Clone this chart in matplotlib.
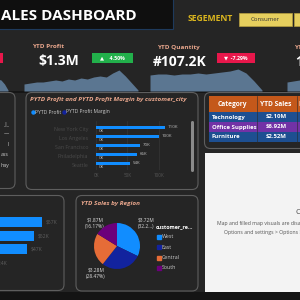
import matplotlib
matplotlib.use('Agg')
import matplotlib.pyplot as plt
from matplotlib.patches import FancyBboxPatch, Rectangle

plt.rcParams['font.family'] = ['Open Sans', 'DejaVu Sans']

# ---------------- data ----------------
profit_trend = [7, 8, 9, 9, 10, 11, 10, 12, 11, 13, 12, 14, 15, 14, 18, 21, 15, 8, 1]
quantity_trend = [16, 17, 17, 16, 17, 17, 18, 17, 18, 19, 20, 22, 18, 10, 1]
card1_trend = [13, 12, 11, 7, 1]
card4_trend = [9, 10, 11, 11, 12]

cities = ['New York City', 'Los Angeles', 'San Francisco', 'Philadelphia', 'Seattle']
pytd_profit = [110, 100, 70, 66, 54]
pytd_margin = [0, 0, 0, 0, 0]
xticks_k = [0, 50, 100]

seg_vals = [57, 52, 47, 24]

categories = ['Technology', 'Office Supplies', 'Furniture']
cat_sales = ['$2.10M', '$6.92M', '$2.52M']

regions = ['West', 'East', 'Central', 'South']
region_sales = [3.72, 3.28, 2.68, 1.87]
region_pct = ['(32.2...)', '(28.47%)', '', '(16.17%)']
region_colors = ['#118dff', '#12239e', '#e66c37', '#6b007b']

W = H = 300
fig = plt.figure(figsize=(3, 3), dpi=100)
fig.patch.set_facecolor('#252525')


def rect(x0, y0, x1, y1):
    return [x0 / W, 1 - y1 / H, (x1 - x0) / W, (y1 - y0) / H]


bg = fig.add_axes([0, 0, 1, 1])
bg.set_xlim(0, 300)
bg.set_ylim(300, 0)
bg.axis('off')

SALMON = '#e8a68c'

# title bar
bg.add_patch(Rectangle((-2, -2), 175, 31, fc='#0f0f0f', ec='#1e3a5c', lw=0.8))
bg.text(1, 16, 'ALES DASHBOARD', color='white', fontsize=11, fontweight='bold',
        ha='left', va='center')
bg.text(188, 18.5, 'SEGEMENT', color='#dbb61e', fontsize=6.2, fontweight='bold',
        ha='left', va='center')
bg.add_patch(Rectangle((239, 12.5), 53, 13.5, fc='#e6cf5e', ec='#b8a040', lw=0.5))
bg.add_patch(Rectangle((293.5, 12.5), 10, 13.5, fc='#e6cf5e', ec='#b8a040', lw=0.5))
bg.text(265.5, 19.5, 'Consumer', color='#333333', fontsize=4.3, ha='center', va='center')

# strips
bg.add_patch(Rectangle((0, 91), 300, 2, fc='#161616', lw=0))
bg.add_patch(Rectangle((0, 292), 300, 10, fc='#141414', lw=0))

# KPI texts
bg.add_patch(Rectangle((-5, 52.5), 8, 10, fc='#e8174b', lw=0))
bg.text(32, 46, 'YTD Profit', color=SALMON, fontsize=4.6, fontweight='bold', ha='left', va='center')
bg.text(38, 61, '$1.3M', color='white', fontsize=10, fontweight='bold', ha='left', va='center')
bg.add_patch(Rectangle((92, 53), 41, 10, fc='#22b04b', lw=0))
bg.text(112.5, 58, '\u25B2    4.50%', color='white', fontsize=3.8, fontweight='bold',
        ha='center', va='center')
bg.text(157, 47.5, 'YTD Quantity', color=SALMON, fontsize=4.6, fontweight='bold', ha='left', va='center')
bg.text(153, 62, '#107.2K', color='white', fontsize=10, fontweight='bold', ha='left', va='center')
bg.add_patch(Rectangle((217, 53), 38, 10, fc='#e8174b', lw=0))
bg.text(236, 58, '\u25BC  -7.29%', color='white', fontsize=3.8, fontweight='bold',
        ha='center', va='center')
bg.text(294, 47.5, 'YTD', color=SALMON, fontsize=4.6, fontweight='bold', ha='left', va='center')
bg.text(295, 62, '1', color='white', fontsize=10, fontweight='bold', ha='left', va='center')

AREA = '#5b7691'
for trend, box in [(card1_trend, (-6, 62, 8, 91)), (profit_trend, (24, 62, 138, 91)),
                   (quantity_trend, (150, 62, 262, 91)), (card4_trend, (287, 62, 312, 91))]:
    a = fig.add_axes(rect(*box))
    a.fill_between(range(len(trend)), trend, color=AREA, lw=0)
    a.set_xlim(0, len(trend) - 1)
    a.set_ylim(0, 29)
    a.axis('off')

# panels
PANEL_EC = '#5e5e5e'


def panel(x0, y0, x1, y1):
    bg.add_patch(FancyBboxPatch((x0, y0), x1 - x0, y1 - y0,
                                boxstyle='round,pad=0,rounding_size=6',
                                fc='none', ec=PANEL_EC, lw=0.8))


panel(-20, 92.5, 15, 188.5)
panel(26, 92.5, 198, 189.5)
panel(204.5, 92.5, 320, 148.5)
panel(-20, 195.5, 64, 290.5)
panel(76, 195.5, 198, 291)

# left partial panel texts
for yy, s in [(124, '_l_'), (134, '\u2014'), (145, 'l'), (155, 'ass'), (166, 'hay')]:
    bg.text(9, yy, s, color='#cccccc', fontsize=3.8, ha='right', va='center')

# mid chart
bg.text(30, 100, 'PYTD Profit and PYTD Profit Margin by customer_city', color=SALMON,
        fontsize=4.6, fontweight='bold', fontstyle='italic', ha='left', va='center')
bg.plot([32.5], [112], 'o', ms=2.2, color='#118dff')
bg.text(35, 112, 'PYTD Profit', color='#cccccc', fontsize=3.6, ha='left', va='center')
bg.plot([64], [112], 'o', ms=2.2, color='#12239e')
bg.text(66.5, 112, 'PYTD Profit Margin', color='#cccccc', fontsize=3.6, ha='left', va='center')

ax = fig.add_axes(rect(96, 121, 185, 170))
ax.set_facecolor('none')
ypos = list(range(len(cities)))
b1 = ax.barh([y - 0.19 for y in ypos], pytd_profit, height=0.36, color='#118dff', zorder=3)
b2 = ax.barh([y + 0.19 for y in ypos], pytd_margin, height=0.36, color='#12239e', zorder=3)
ax.bar_label(b1, labels=[f'{v}K' for v in pytd_profit], padding=2, fontsize=3.2, color='#bbbbbb')
ax.bar_label(b2, labels=[f'{v}K' for v in pytd_margin], padding=2, fontsize=3.2, color='#bbbbbb')
ax.set_xlim(0, 142)
ax.set_ylim(4.56, -0.89)
ax.set_yticks(ypos)
ax.set_yticklabels(cities, fontsize=3.8, color='#4a4a4a')
ax.set_xticks(xticks_k)
ax.set_xticklabels([f'{v}K' for v in xticks_k], fontsize=3.3, color='#555555')
ax.tick_params(axis='y', length=0, pad=5.5)
ax.tick_params(axis='x', length=0, pad=2.5)
ax.grid(axis='x', color='#353535', lw=0.5, zorder=0)
for s in ax.spines.values():
    s.set_visible(False)
bg.add_patch(FancyBboxPatch((191, 121), 3, 51, boxstyle='round,pad=0,rounding_size=1.5',
                            fc='#8a8a8a', lw=0))

# table
bg.add_patch(Rectangle((208.5, 96), 100, 16, fc='#c4581a', lw=0))
row_cols = ['#1d4f91', '#7232a6', '#1d4f91']
for i, (c, v) in enumerate(zip(categories, cat_sales)):
    y0 = 112 + 10 * i
    bg.add_patch(Rectangle((208.5, y0), 100, 10, fc=row_cols[i], lw=0))
    bg.text(212, y0 + 5, c, color='white', fontsize=4.3, fontweight='bold', ha='left', va='center')
    bg.text(276, y0 + 5, v, color='white', fontsize=4.3, fontweight='bold', ha='center', va='center')
bg.plot([257, 257], [96, 142], color='#2a2a2a', lw=0.4)
bg.plot([296.5, 296.5], [96, 142], color='#2a2a2a', lw=0.4)
bg.text(232.5, 104, 'Category', color='white', fontsize=4.8, fontweight='bold', ha='center', va='center')
bg.text(276, 104, 'YTD Sales', color='white', fontsize=4.8, fontweight='bold', ha='center', va='center')
bg.text(298, 104, 'P', color='white', fontsize=4.8, fontweight='bold', ha='left', va='center')

# map panel
bg.add_patch(Rectangle((204.5, 153), 100, 139, fc='#f3f3f3', lw=0))
bg.text(296, 212, 'C', color='#444444', fontsize=5.5, ha='left', va='center')
bg.text(217, 223.5, 'Map and filled map visuals are disabled', color='#555555',
        fontsize=3.7, ha='left', va='center')
bg.text(224, 232.5, 'Options and settings > Options > Security', color='#555555',
        fontsize=3.7, ha='left', va='center')

# bottom-left bars
ax2 = fig.add_axes(rect(0, 214, 62, 270))
ax2.set_facecolor('none')
sp = list(range(len(seg_vals)))
b3 = ax2.barh(sp, seg_vals, height=0.72, color='#118dff')
ax2.bar_label(b3, labels=[f'${v}K' for v in seg_vals], padding=2.5, fontsize=3.6,
              color='#5e5e5e', annotation_clip=False)
ax2.set_xlim(29, 29 + 62 / 1.5)
ax2.set_ylim(3.51, -0.585)
ax2.axis('off')

# pie
bg.text(81, 203, 'YTD Sales by Region', color=SALMON, fontsize=4.6, fontweight='bold',
        fontstyle='italic', ha='left', va='center')
axp = fig.add_axes(rect(94, 223, 140, 269))
axp.pie(region_sales, colors=region_colors, startangle=90, counterclock=False,
        wedgeprops=dict(lw=0))
axp.set_xlim(-1, 1)
axp.set_ylim(-1, 1)
axp.set_aspect('auto')

lab_pos = {0: (138, 'left', 220, 226.5), 1: (96, 'center', 270, 276.5), 3: (95, 'center', 220, 226.5)}
for i, (x, ha, y1, y2) in lab_pos.items():
    bg.text(x, y1, f'${region_sales[i]:.2f}M', color='#dddddd', fontsize=3.5, ha=ha, va='center')
    bg.text(x, y2, region_pct[i], color='#dddddd', fontsize=3.5, ha=ha, va='center')

bg.text(156, 227.5, 'customer_re...', color='white', fontsize=3.9, fontweight='bold',
        ha='left', va='center')
for i, (r, c) in enumerate(zip(regions, region_colors)):
    yy = 237 + 10.3 * i
    bg.plot([158.5], [yy], 's', ms=2.2, color=c)
    bg.text(161.5, yy, r, color='#cccccc', fontsize=3.8, ha='left', va='center')

fig.savefig('out.png', dpi=100, facecolor=fig.get_facecolor())
